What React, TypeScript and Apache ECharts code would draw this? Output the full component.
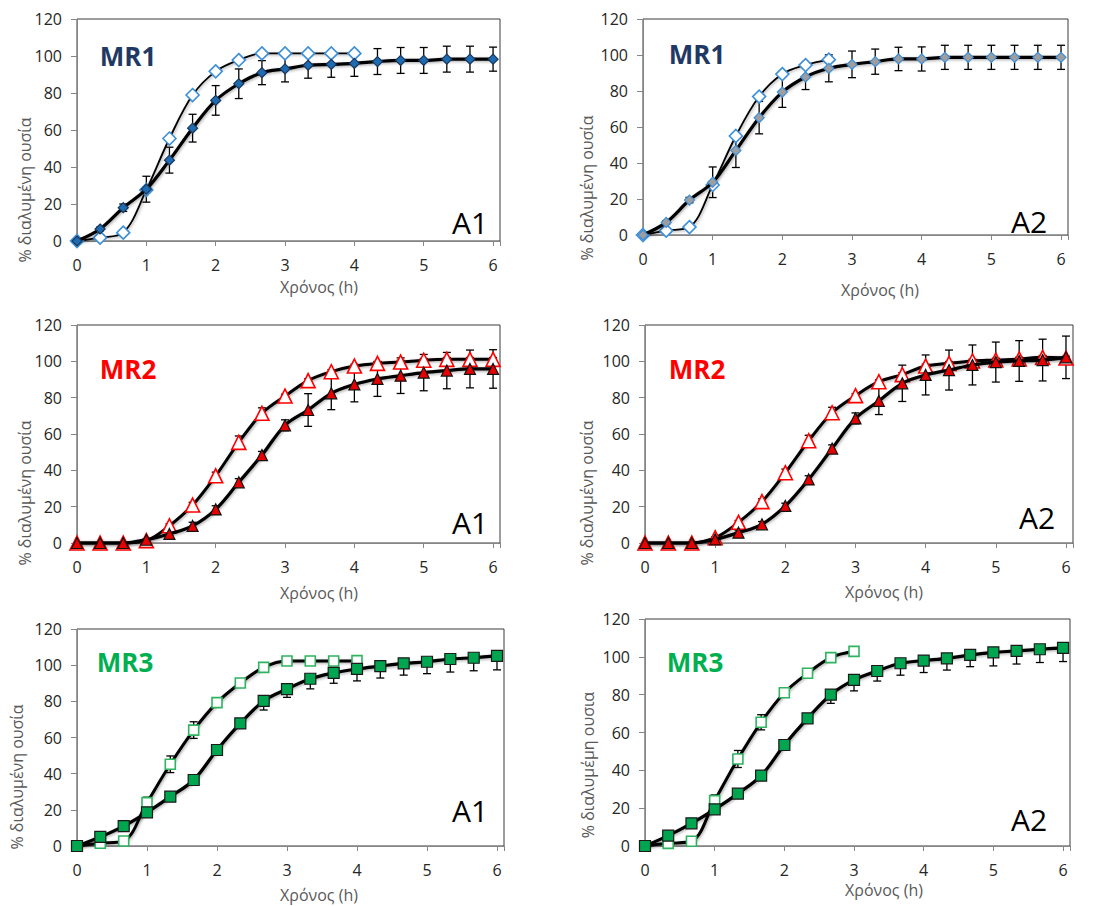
import React, { useEffect, useRef } from "react";
import * as echarts from "echarts";

// Sampling times (h)
const TIME_H = [0, 0.333, 0.667, 1, 1.333, 1.667, 2, 2.333, 2.667, 3, 3.333, 3.667, 4, 4.333, 4.667, 5, 5.333, 5.667, 6];

// MR1 A1
const MR1_A1_FILLED = [0, 6.5, 18, 28, 43.7, 61, 76, 85, 91, 93, 95, 95.5, 96, 97, 97.6, 97.6, 98.3, 98.3, 98.3];
const MR1_A1_FILLED_ERR = [0, 1, 2, 7, 7, 7.5, 8, 8, 6.5, 7, 7, 7, 7, 7, 7, 7, 7, 7, 6.5];
const MR1_A1_OPEN = [0, 1.8, 4.5, 27.6, 55.4, 78.9, 91.7, 97.8, 101.4, 101.4, 101.4, 101.4, 101.4];

// MR1 A2
const MR1_A2_FILLED = [0, 7, 19.4, 29.3, 47, 65.2, 79.4, 87.8, 92.6, 94.8, 96.3, 97.8, 97.8, 98.7, 98.7, 98.7, 98.7, 98.7, 98.7];
const MR1_A2_FILLED_ERR = [0, 1, 1.5, 8.5, 9.5, 9, 8.5, 7, 7.5, 7.4, 7, 6.5, 6.7, 6.7, 6.7, 6.7, 6.7, 6.7, 6.7];
const MR1_A2_OPEN = [0, 2.4, 4.4, 27.8, 55, 76.9, 89.4, 94.4, 97.4];

// MR2 A1
const MR2_A1_FILLED = [0, 0, 0, 1.8, 5, 9.4, 18.5, 33.4, 48.4, 64.8, 73.2, 82.4, 87.3, 90.3, 92.1, 93.8, 94.9, 95.8, 95.8];
const MR2_A1_FILLED_ERR = [0, 0, 0, 0.5, 1, 2, 2, 2, 2, 3, 9, 9, 9.6, 9.6, 9.8, 10, 10, 10.4, 10.6];
const MR2_A1_OPEN = [0, 0, 0, 1.3, 9.5, 20.9, 37, 55.4, 71.4, 80.9, 89.4, 94.3, 97.4, 98.9, 99.6, 100.6, 101.1, 101.1, 101.1];
const MR2_A1_OPEN_ERR = [0, 0, 0, 0.5, 1, 1.5, 2, 3.5, 3, 1, 1, 1, 1, 1, 1, 1, 1, 1, 1];

// MR2 A2
const MR2_A2_FILLED = [0, 0, 0, 2, 5.7, 10.3, 20.4, 35, 52, 68.6, 78.2, 87.9, 92.5, 95.2, 98, 99.6, 100.2, 100.7, 102.2];
const MR2_A2_FILLED_ERR = [0, 0, 0, 0.5, 1, 1.5, 1.5, 2, 2, 3, 7.5, 10, 11, 11, 11, 11, 11.2, 11.5, 11.7];
const MR2_A2_OPEN = [0, 0, 0, 2.9, 11.4, 22.8, 38.7, 56.3, 71.7, 81.1, 88.8, 92.7, 97.4, 98.9, 100.2, 100.7, 101.3, 102.2, 101.8];
const MR2_A2_OPEN_ERR = [0, 0, 0, 0.5, 1, 1.5, 2, 3, 3, 1, 1, 1, 1, 1, 1, 1, 1, 1, 1];

// MR3 A1
const MR3_A1_FILLED = [0, 5, 11, 18.6, 27.3, 36.5, 53.1, 67.8, 80.2, 86.8, 92.5, 95.7, 97.9, 99.5, 101, 101.9, 103.4, 104.1, 105.1];
const MR3_A1_FILLED_ERR = [0, 0.5, 1, 2.4, 1.5, 1.5, 2, 2.5, 5, 4.6, 5.6, 5.7, 6.6, 6.6, 6.5, 6.6, 7.2, 7.2, 7.7];
const MR3_A1_OPEN = [0, 1.5, 2.8, 24, 45.2, 64.1, 79.3, 90.1, 98.8, 102.3, 102.3, 102.3, 102.5];
const MR3_A1_OPEN_ERR = [0, 0, 0, 3, 4.6, 4.6, 1, 1, 1, 0.5, 0.5, 0.5, 0.5];

// MR3 A2
const MR3_A2_FILLED = [0, 5.5, 12, 19.4, 27.7, 37.2, 53.4, 67.5, 80, 87.8, 92.5, 96.6, 98, 99.2, 101, 102.4, 103.1, 104, 104.7];
const MR3_A2_FILLED_ERR = [0, 0.5, 1, 1.5, 1, 1, 1.5, 2, 4.6, 5.8, 5.3, 6.3, 6.3, 6.2, 6.2, 7.2, 6.9, 7, 7.2];
const MR3_A2_OPEN = [0, 1.4, 2.5, 24, 46, 65.4, 81, 91.3, 99.6, 102.9];
const MR3_A2_OPEN_ERR = [0, 0, 0, 3, 4.5, 4, 1, 1, 1, 1];

const X_TICKS = [0, 1, 2, 3, 4, 5, 6];
const Y_TICKS = [0, 20, 40, 60, 80, 100, 120];

const FONT = "'Open Sans', 'Noto Sans', sans-serif";

type Panel = {
  grid: { left: number; top: number; width: number; height: number };
  filled: number[];
  filledErr: number[];
  minusOnly: boolean;
  open: number[];
  openErr?: number[];
  filledSym: string;
  filledSize: number;
  filledColor: string;
  filledBorder: string;
  openSym: string;
  openSize: number;
  openBorder: string;
  openLineWidth: number;
  mrLabel: string;
  mrColor: string;
  mrPos: [number, number];
  aLabel: string;
  aPos: [number, number];
  xTitlePos: [number, number];
  yTitlePos: [number, number];
  yTitle: string;
};

const PANELS: Panel[] = [
  {
    grid: { left: 77, top: 19, width: 423, height: 222 },
    filled: MR1_A1_FILLED, filledErr: MR1_A1_FILLED_ERR, minusOnly: false,
    open: MR1_A1_OPEN,
    filledSym: "diamond", filledSize: 10, filledColor: "#1F6BB0", filledBorder: "#17365D",
    openSym: "diamond", openSize: 13, openBorder: "#3D8FD9", openLineWidth: 1.8,
    mrLabel: "MR1", mrColor: "#1F3864", mrPos: [128, 56],
    aLabel: "A1", aPos: [470, 222], xTitlePos: [319, 287], yTitlePos: [25, 190],
    yTitle: "% διαλυμένη ουσία",
  },
  {
    grid: { left: 643, top: 19, width: 425, height: 216 },
    filled: MR1_A2_FILLED, filledErr: MR1_A2_FILLED_ERR, minusOnly: false,
    open: MR1_A2_OPEN,
    filledSym: "diamond", filledSize: 10, filledColor: "#9E9E9E", filledBorder: "#3D8FD9",
    openSym: "diamond", openSize: 13, openBorder: "#3D8FD9", openLineWidth: 1.8,
    mrLabel: "MR1", mrColor: "#1F3864", mrPos: [697, 54],
    aLabel: "A2", aPos: [1029, 221], xTitlePos: [880, 290], yTitlePos: [587, 188],
    yTitle: "% διαλυμένη ουσία",
  },
  {
    grid: { left: 77, top: 325, width: 423, height: 218 },
    filled: MR2_A1_FILLED, filledErr: MR2_A1_FILLED_ERR, minusOnly: false,
    open: MR2_A1_OPEN, openErr: MR2_A1_OPEN_ERR,
    filledSym: "triangle", filledSize: 11, filledColor: "#E80000", filledBorder: "#111111",
    openSym: "triangle", openSize: 14, openBorder: "#FF0000", openLineWidth: 3,
    mrLabel: "MR2", mrColor: "#FF0000", mrPos: [128, 369],
    aLabel: "A1", aPos: [470, 522], xTitlePos: [319, 593], yTitlePos: [25, 493],
    yTitle: "% διαλυμένη ουσία",
  },
  {
    grid: { left: 645, top: 325, width: 428, height: 218 },
    filled: MR2_A2_FILLED, filledErr: MR2_A2_FILLED_ERR, minusOnly: false,
    open: MR2_A2_OPEN, openErr: MR2_A2_OPEN_ERR,
    filledSym: "triangle", filledSize: 11, filledColor: "#E80000", filledBorder: "#111111",
    openSym: "triangle", openSize: 14, openBorder: "#FF0000", openLineWidth: 3,
    mrLabel: "MR2", mrColor: "#FF0000", mrPos: [697, 369],
    aLabel: "A2", aPos: [1037, 517], xTitlePos: [884, 592], yTitlePos: [587, 493],
    yTitle: "% διαλυμένη ουσία",
  },
  {
    grid: { left: 77, top: 629, width: 427, height: 217 },
    filled: MR3_A1_FILLED, filledErr: MR3_A1_FILLED_ERR, minusOnly: true,
    open: MR3_A1_OPEN, openErr: MR3_A1_OPEN_ERR,
    filledSym: "rect", filledSize: 11, filledColor: "#00A550", filledBorder: "#1A1A1A",
    openSym: "rect", openSize: 10, openBorder: "#2EB35E", openLineWidth: 3,
    mrLabel: "MR3", mrColor: "#00B050", mrPos: [125, 662],
    aLabel: "A1", aPos: [470, 810], xTitlePos: [319, 895], yTitlePos: [17, 777],
    yTitle: "% διαλυμένη ουσία",
  },
  {
    grid: { left: 645, top: 619, width: 425, height: 227 },
    filled: MR3_A2_FILLED, filledErr: MR3_A2_FILLED_ERR, minusOnly: true,
    open: MR3_A2_OPEN, openErr: MR3_A2_OPEN_ERR,
    filledSym: "rect", filledSize: 11, filledColor: "#00A550", filledBorder: "#1A1A1A",
    openSym: "rect", openSize: 10, openBorder: "#2EB35E", openLineWidth: 3,
    mrLabel: "MR3", mrColor: "#00B050", mrPos: [695, 662],
    aLabel: "A2", aPos: [1029, 819], xTitlePos: [884, 890], yTitlePos: [588, 765],
    yTitle: "% διαλυμέμη ουσια",
  },
];

function errRender(capTop: boolean, capBottom: boolean) {
  return (params: any, api: any) => {
    const x = api.value(0);
    const lo = api.value(1);
    const hi = api.value(2);
    const a = api.coord([x, hi]);
    const b = api.coord([x, lo]);
    const hw = 4;
    const style = { stroke: "#000", lineWidth: 1.3 };
    const children: any[] = [
      { type: "line", shape: { x1: a[0], y1: a[1], x2: b[0], y2: b[1] }, style },
    ];
    if (capTop) children.push({ type: "line", shape: { x1: a[0] - hw, y1: a[1], x2: a[0] + hw, y2: a[1] }, style });
    if (capBottom) children.push({ type: "line", shape: { x1: b[0] - hw, y1: b[1], x2: b[0] + hw, y2: b[1] }, style });
    return { type: "group", children };
  };
}

export default function App() {
  const ref = useRef<HTMLDivElement>(null);

  useEffect(() => {
    if (!ref.current) return;
    const chart = echarts.init(ref.current, null, { renderer: "svg" });

    const grids: any[] = [];
    const xAxes: any[] = [];
    const yAxes: any[] = [];
    const series: any[] = [];
    const graphics: any[] = [];

    PANELS.forEach((p, i) => {
      grids.push({
        ...p.grid,
        show: true,
        borderColor: "#3A3A3A",
        borderWidth: 1,
        backgroundColor: "transparent",
      });
      xAxes.push({
        type: "value",
        gridIndex: i,
        min: X_TICKS[0],
        max: 6.1,
        interval: 1,
        axisLine: { show: true, onZero: false, lineStyle: { color: "#868686", width: 1 } },
        axisTick: { show: true, inside: false, length: 5, lineStyle: { color: "#868686" } },
        splitLine: { show: false },
        axisLabel: {
          margin: 16,
          color: "#262626",
          fontFamily: FONT,
          fontSize: 16,
          formatter: (v: number) => (X_TICKS.includes(v) ? String(v) : ""),
        },
      });
      yAxes.push({
        type: "value",
        gridIndex: i,
        min: Y_TICKS[0],
        max: Y_TICKS[Y_TICKS.length - 1],
        interval: 20,
        axisLine: { show: true, lineStyle: { color: "#868686", width: 1 } },
        axisTick: { show: true, inside: false, length: 6, lineStyle: { color: "#868686" } },
        splitLine: { show: false },
        axisLabel: {
          margin: 15,
          color: "#262626",
          fontFamily: FONT,
          fontSize: 16,
        },
      });

      const lineShadow = { shadowColor: "rgba(0,0,0,0.35)", shadowBlur: 3, shadowOffsetX: 1, shadowOffsetY: 1 };

      // error bars of open series
      if (p.openErr) {
        const d = p.open
          .map((v, k) => [TIME_H[k], v - (p.openErr as number[])[k], v + (p.openErr as number[])[k]])
          .filter((r, k) => (p.openErr as number[])[k] > 0.4);
        series.push({
          type: "custom",
          xAxisIndex: i,
          yAxisIndex: i,
          renderItem: errRender(true, true),
          encode: { x: 0, y: [1, 2] },
          data: d,
          z: 1,
          silent: true,
        });
      }
      // error bars of filled series
      const fd = p.filled
        .map((v, k) => [TIME_H[k], v - p.filledErr[k], p.minusOnly ? v : v + p.filledErr[k]])
        .filter((r, k) => p.filledErr[k] > 0.4);
      series.push({
        type: "custom",
        xAxisIndex: i,
        yAxisIndex: i,
        renderItem: errRender(!p.minusOnly, true),
        encode: { x: 0, y: [1, 2] },
        data: fd,
        z: 1,
        silent: true,
      });

      series.push({
        type: "line",
        name: p.mrLabel + " " + p.aLabel + " open",
        xAxisIndex: i,
        yAxisIndex: i,
        data: p.open.map((v, k) => [TIME_H[k], v]),
        smooth: 0.35,
        symbol: p.openSym,
        symbolSize: p.openSize,
        showAllSymbol: true,
        lineStyle: { color: "#000", width: p.openLineWidth, ...lineShadow },
        itemStyle: { color: "#FFFFFF", borderColor: p.openBorder, borderWidth: 1.6 },
        z: 2,
        clip: false,
      });
      series.push({
        type: "line",
        name: p.mrLabel + " " + p.aLabel + " filled",
        xAxisIndex: i,
        yAxisIndex: i,
        data: p.filled.map((v, k) => [TIME_H[k], v]),
        smooth: 0.35,
        symbol: p.filledSym,
        symbolSize: p.filledSize,
        showAllSymbol: true,
        lineStyle: { color: "#000", width: 3.2, ...lineShadow },
        itemStyle: { color: p.filledColor, borderColor: p.filledBorder, borderWidth: 1.2 },
        z: 3,
        clip: false,
      });

      graphics.push({
        type: "text",
        x: p.mrPos[0],
        y: p.mrPos[1],
        style: {
          text: p.mrLabel,
          fill: p.mrColor,
          font: `bold 26px ${FONT}`,
          textAlign: "center",
          textVerticalAlign: "middle",
        },
      });
      graphics.push({
        type: "text",
        x: p.aPos[0],
        y: p.aPos[1],
        style: {
          text: p.aLabel,
          fill: "#000",
          font: `30px ${FONT}`,
          textAlign: "center",
          textVerticalAlign: "middle",
        },
      });
      graphics.push({
        type: "text",
        x: p.xTitlePos[0],
        y: p.xTitlePos[1],
        style: {
          text: "Χρόνος (h)",
          fill: "#595959",
          font: `16px ${FONT}`,
          textAlign: "center",
          textVerticalAlign: "middle",
        },
      });
      graphics.push({
        type: "text",
        x: p.yTitlePos[0],
        y: p.yTitlePos[1],
        rotation: Math.PI / 2,
        style: {
          text: p.yTitle,
          fill: "#595959",
          font: `16px ${FONT}`,
          textAlign: "center",
          textVerticalAlign: "middle",
        },
      });
    });

    chart.setOption({
      animation: false,
      backgroundColor: "#FFFFFF",
      grid: grids,
      xAxis: xAxes,
      yAxis: yAxes,
      series,
      graphic: graphics,
    });

    return () => chart.dispose();
  }, []);

  return (
    <div
      ref={ref}
      style={{ position: "absolute", left: 0, top: 0, width: 1097, height: 906 }}
    />
  );
}
